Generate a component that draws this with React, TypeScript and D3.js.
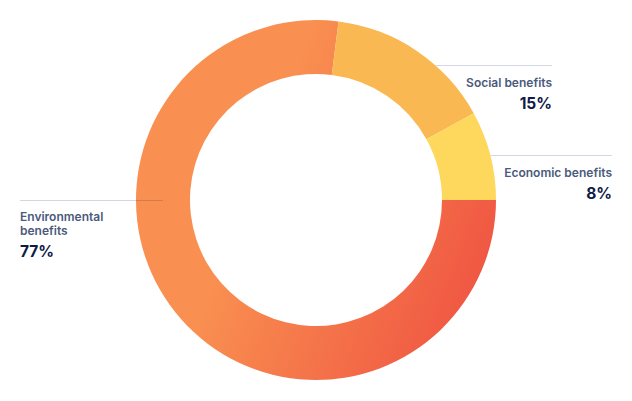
import React from 'react';
import * as d3 from 'd3';

const categories = ['Environmental benefits', 'Social benefits', 'Economic benefits'];
const shares = [77, 15, 8];
const valueLabels = ['77%', '15%', '8%'];
const sliceColors = ['url(#envGrad)', '#F9B852', '#FED85D'];

const width = 632;
const height = 401;

const App: React.FC = () => {
    const svgRef = React.useRef<SVGSVGElement>(null);

    React.useEffect(() => {
        if (!svgRef.current) return;
        const svg = d3.select(svgRef.current);
        svg.selectAll('*').remove();

        const cx = 316;
        const cy = 200;
        const outerR = 180;
        const innerR = 126;

        // gradient coords are relative to the ring centre (the paths live in a translated group)
        const defs = svg.append('defs');
        const grad = defs.append('linearGradient')
            .attr('id', 'envGrad')
            .attr('gradientUnits', 'userSpaceOnUse')
            .attr('x1', -110).attr('y1', 10)
            .attr('x2', 150).attr('y2', 110);
        grad.append('stop').attr('offset', '0.12').attr('stop-color', '#F98F50');
        grad.append('stop').attr('offset', '1').attr('stop-color', '#F05843');

        const data = categories.map((c, i) => ({ name: c, value: shares[i], label: valueLabels[i], color: sliceColors[i] }));

        const pie = d3.pie<typeof data[number]>()
            .sort(null)
            .value(d => d.value)
            .startAngle(Math.PI / 2)
            .endAngle(Math.PI / 2 + Math.PI * 2);

        const arc = d3.arc<d3.PieArcDatum<typeof data[number]>>()
            .innerRadius(innerR)
            .outerRadius(outerR);

        // leader lines for social and economic sit under the ring
        const lineColor = '#D5D8E4';
        svg.append('line')
            .attr('x1', cx + Math.sqrt(outerR * outerR - (cy - 65.5) ** 2)).attr('x2', 552)
            .attr('y1', 65.5).attr('y2', 65.5)
            .attr('stroke', lineColor).attr('stroke-width', 1);
        svg.append('line')
            .attr('x1', cx + Math.sqrt(outerR * outerR - (cy - 155.5) ** 2)).attr('x2', 612)
            .attr('y1', 155.5).attr('y2', 155.5)
            .attr('stroke', lineColor).attr('stroke-width', 1);

        const g = svg.append('g').attr('transform', `translate(${cx},${cy})`);
        g.selectAll('path')
            .data(pie(data))
            .enter()
            .append('path')
            .attr('d', arc)
            .attr('fill', d => d.data.color);

        // environmental leader line crosses onto the ring
        svg.append('line')
            .attr('x1', 20).attr('x2', 163)
            .attr('y1', 200.5).attr('y2', 200.5)
            .attr('stroke', '#2A3566').attr('stroke-opacity', 0.2).attr('stroke-width', 1);

        const font = 'Inter, "Noto Sans", sans-serif';
        const labelColor = '#4B5A7C';
        const valueColor = '#0E1B46';

        const addLabel = (lines: string[], value: string, x: number, y: number, anchor: string) => {
            lines.forEach((t, i) => {
                svg.append('text')
                    .attr('x', x).attr('y', y + i * 14)
                    .attr('text-anchor', anchor)
                    .attr('font-family', font)
                    .attr('font-size', 12)
                    .attr('font-weight', 600)
                    .attr('fill', labelColor)
                    .text(t);
            });
            svg.append('text')
                .attr('x', x).attr('y', y + (lines.length - 1) * 14 + 22)
                .attr('text-anchor', anchor)
                .attr('font-family', font)
                .attr('font-size', 15.5)
                .attr('font-weight', 700)
                .attr('fill', valueColor)
                .text(value);
        };

        addLabel(['Environmental', 'benefits'], data[0].label, 20, 221, 'start');
        addLabel(['Social benefits'], data[1].label, 552, 87, 'end');
        addLabel(['Economic benefits'], data[2].label, 612, 177, 'end');
    }, []);

    return (
        <svg
            ref={svgRef}
            width={width}
            height={height}
            style={{ position: 'absolute', left: 0, top: 0, background: '#fff' }}
        />
    );
};

export default App;
